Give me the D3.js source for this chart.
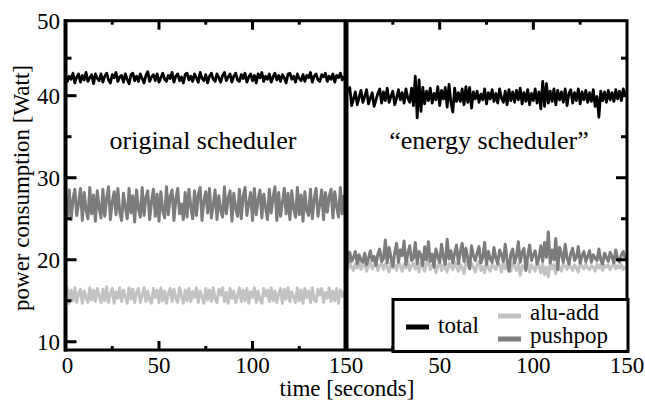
<!DOCTYPE html>
<html><head><meta charset="utf-8">
<script src="https://cdn.jsdelivr.net/npm/d3@7"></script>
<style>body{margin:0;background:#fff}svg{display:block}</style>
</head><body><svg id="c" width="645" height="402" font-family="'Liberation Serif', 'Times New Roman', Times, 'DejaVu Serif', serif"></svg>
<script>
// ---- data ----
const seconds = d3.range(0, 150);
const panels = ["original scheduler", "\u201Cenergy scheduler\u201D"];
const seriesNames = ["total", "alu-add", "pushpop"];
const yTicks = [10, 20, 30, 40, 50];
const yMinor = [15, 25, 35, 45];
const xTicksLeft = [0, 50, 100, 150];
const xTicksRight = [50, 100, 150];
const xMinor = [25, 75, 125];

const origTotal = [
42.8,41.9,42.6,42.2,43.0,41.7,42.5,42.9,41.8,42.7,
42.1,43.1,41.9,42.4,42.8,41.6,42.9,42.3,42.0,42.9,
41.8,42.6,43.0,42.1,41.7,42.8,42.4,43.1,41.9,42.5,
42.7,41.8,42.9,42.2,41.6,42.8,43.0,42.0,42.6,41.9,
42.9,42.3,41.7,42.7,43.2,41.9,42.5,42.8,42.0,42.9,
41.8,42.4,43.0,42.2,41.9,42.7,42.3,43.1,41.8,42.6,
42.9,42.0,42.5,41.7,42.8,43.0,42.1,42.6,41.9,42.9,
42.4,41.8,43.1,42.3,42.0,42.8,41.7,42.6,43.0,42.2,
41.9,42.9,42.4,41.8,42.7,43.1,42.0,42.5,42.9,41.8,
42.6,43.0,42.1,41.9,42.8,42.3,43.0,41.8,42.5,42.9,
42.0,42.7,41.7,42.9,42.4,43.1,41.9,42.6,42.2,42.9,
41.8,42.5,43.0,42.1,42.7,41.9,42.8,42.4,41.7,42.9,
43.0,42.2,42.6,41.8,42.9,42.3,42.0,42.8,41.9,42.7,
42.4,43.1,41.8,42.6,42.9,42.1,41.9,42.8,42.5,43.0,
41.9,42.6,42.2,42.9,41.8,42.7,42.4,43.0,42.1,42.6];
const origPushpop = [
27.8,25.2,28.5,24.9,27.3,28.6,25.4,26.9,28.7,24.8,
28.2,26.1,25.0,28.8,25.6,27.9,24.7,28.4,26.3,25.1,
28.6,25.3,27.5,28.9,24.9,27.0,28.3,25.5,28.7,25.8,
24.8,28.1,26.4,25.0,28.7,25.7,27.8,24.6,28.5,26.2,
25.2,28.8,25.4,27.6,28.4,24.9,27.1,28.6,25.3,28.0,
24.7,28.3,26.0,25.1,28.9,25.5,27.7,28.5,24.8,27.4,
28.7,25.6,26.8,24.9,28.2,25.2,28.6,26.5,25.0,28.4,
25.4,27.9,28.8,24.8,27.2,28.3,25.7,28.7,25.1,26.6,
28.5,24.9,27.8,26.1,25.2,28.9,25.6,27.5,28.4,24.7,
28.1,26.3,25.3,28.6,25.0,27.7,28.8,25.4,26.9,28.2,
24.8,28.7,25.5,27.3,28.5,25.1,28.0,26.4,24.9,28.6,
25.7,27.6,28.9,24.8,28.2,25.3,27.0,28.7,25.6,28.1,
24.9,28.4,26.2,25.2,28.8,25.5,27.9,24.7,28.3,26.0,
25.4,28.6,25.0,27.4,28.7,25.3,26.8,28.5,24.9,28.2,
25.8,27.7,28.6,25.1,28.3,26.5,25.2,28.8,25.6,27.9];
const origAlu = [
15.2,16.5,14.7,16.3,15.0,16.6,14.8,15.9,16.4,14.7,
16.2,15.4,14.8,16.6,15.1,16.3,14.9,16.5,15.6,14.8,
16.4,15.0,16.7,14.8,15.8,16.5,14.7,16.1,15.3,16.6,
14.9,16.3,15.5,14.7,16.6,15.2,16.4,14.8,16.0,16.5,
14.8,15.7,16.6,14.9,16.2,15.1,14.7,16.5,15.4,16.3,
14.8,16.6,15.0,16.2,14.7,15.9,16.5,14.9,16.4,15.3,
14.8,16.6,15.6,14.7,16.3,15.0,16.5,14.9,16.1,15.4,
16.6,14.8,16.2,15.5,14.7,16.5,15.1,16.3,14.9,16.6,
15.2,14.8,16.4,15.7,16.6,14.9,16.0,14.7,16.5,15.3,
16.2,14.8,15.6,16.6,14.9,16.3,15.0,16.5,14.7,16.1,
15.4,16.6,14.8,16.2,15.1,14.7,16.5,15.6,16.3,14.9,
16.6,15.0,16.2,14.8,15.8,16.5,14.7,16.4,15.2,16.6,
14.9,16.1,15.5,14.8,16.6,15.0,16.3,14.7,16.5,15.4,
16.2,14.8,16.6,15.1,14.9,16.4,15.7,16.5,14.8,16.0,
15.3,16.6,14.9,16.2,15.0,16.5,14.7,16.3,15.5,16.1];
const energyTotal = [
41.0,40.6,41.1,38.8,39.6,40.5,38.9,39.8,40.7,39.2,
39.9,40.8,39.0,39.7,40.4,38.7,39.5,40.3,40.9,39.1,
40.5,39.4,41.0,39.2,39.9,40.6,38.9,39.7,40.8,39.5,
40.4,39.1,40.9,39.7,39.2,41.0,38.8,42.6,37.3,42.1,
38.1,41.1,39.0,40.6,39.4,41.0,39.1,40.3,39.5,41.2,
38.8,40.7,39.6,41.1,38.6,41.5,39.2,38.0,41.0,39.3,
40.4,39.3,40.9,38.9,41.2,39.2,41.1,38.5,40.5,39.6,
40.6,39.2,40.2,39.5,40.9,39.0,40.4,39.6,40.8,39.3,
40.3,39.1,40.9,39.7,39.2,40.6,38.9,40.8,39.4,40.5,
39.2,40.7,39.5,41.0,39.0,40.4,39.3,40.8,38.9,40.3,
39.4,40.9,39.1,40.5,38.4,41.9,38.7,41.6,39.1,40.6,
39.3,40.9,38.9,40.7,39.5,40.5,39.2,40.9,38.8,40.3,
40.8,39.1,40.4,39.4,40.9,39.0,40.5,39.5,40.7,39.2,
40.4,39.3,40.8,38.7,39.9,37.4,40.6,39.4,40.5,39.2,
40.7,39.5,40.4,39.3,40.8,39.6,40.6,39.4,40.9,40.1];
const energyPushpop = [
20.5,19.6,20.9,19.8,20.3,21.0,19.5,20.6,20.0,19.7,
20.8,19.4,20.2,21.1,19.9,20.4,19.3,20.7,21.3,19.8,
20.1,22.4,19.6,21.5,20.3,19.2,20.9,22.0,19.7,21.2,
20.5,22.3,19.4,20.8,21.7,19.9,20.2,22.1,19.5,21.0,
20.6,19.3,21.6,20.0,22.2,19.8,20.7,19.1,21.3,20.4,
19.7,21.9,20.3,19.4,22.5,20.1,21.1,19.6,20.8,21.8,
19.5,20.9,22.0,19.8,21.4,20.2,18.9,21.7,20.5,19.9,
20.8,21.6,19.6,20.3,22.1,19.4,21.0,20.1,19.7,21.5,
20.2,19.5,21.2,20.6,19.8,21.9,20.0,18.6,20.7,21.3,
19.6,20.4,22.2,19.7,20.9,21.4,18.7,20.5,21.8,19.9,
20.6,21.1,19.5,20.2,21.7,19.8,22.1,20.3,23.4,19.6,
21.2,20.0,22.6,18.8,21.5,20.7,19.7,21.9,20.2,19.5,
20.8,21.4,19.9,20.3,21.6,19.6,20.5,21.0,19.8,20.4,
21.1,19.7,20.6,20.2,19.9,21.3,20.0,19.5,20.8,20.3,
19.8,20.9,20.4,19.6,21.2,20.1,19.7,20.6,21.0,20.2];
const energyAlu = [
19.4,18.9,19.6,19.1,18.7,19.5,19.0,19.8,18.8,19.3,
19.6,18.6,19.2,19.7,18.9,19.4,19.9,18.7,19.3,19.6,
18.8,19.5,19.1,18.5,19.7,19.0,19.4,18.7,19.9,19.2,
18.6,19.5,19.0,19.8,18.7,19.3,19.6,18.9,19.4,18.5,
19.7,19.1,18.6,19.5,19.9,18.8,19.3,19.6,18.4,19.2,
19.8,18.7,19.4,19.0,18.5,19.6,19.2,18.8,19.7,19.1,
18.6,19.5,19.0,18.3,19.8,19.3,18.9,19.6,19.1,18.5,
19.4,19.8,18.7,19.2,18.4,19.6,19.0,18.6,19.5,19.1,
18.8,19.7,19.3,18.5,19.9,18.9,19.4,19.1,18.6,19.6,
19.2,18.7,19.5,18.1,19.3,19.0,18.8,19.7,18.5,19.4,
19.0,18.6,19.8,19.2,18.4,19.5,18.2,19.1,17.9,19.6,
18.9,19.4,18.3,19.7,19.0,18.6,19.5,19.2,18.8,19.6,
19.1,18.7,19.4,19.0,18.5,19.6,19.2,18.9,19.5,19.0,
18.8,19.3,19.1,18.6,19.5,19.0,19.4,18.7,19.3,19.1,
19.4,18.8,19.2,19.5,18.9,19.3,19.0,19.4,18.8,19.2];

// ---- drawing ----
const svg = d3.select("#c");
const L = 65.5, M = 346, R = 627, T = 20.7, B = 350;
const xL = d3.scaleLinear().domain([0, 150]).range([L, M]);
const xR = d3.scaleLinear().domain([0, 150]).range([M, R]);
const y = d3.scaleLinear().domain([9, 40, 50]).range([B, 95.7, T]);
const colors = {"total": "#000", "alu-add": "#c2c2c2", "pushpop": "#7c7c7c"};
const widths = {"total": 2.8, "alu-add": 3, "pushpop": 3};

const defs = svg.append("defs");
defs.append("clipPath").attr("id", "cl").append("rect")
  .attr("x", L).attr("y", T).attr("width", M - L).attr("height", B - T);
defs.append("clipPath").attr("id", "cr").append("rect")
  .attr("x", M).attr("y", T).attr("width", R - M).attr("height", B - T);

function drawPanel(x, data, clip) {
  const g = svg.append("g").attr("clip-path", `url(#${clip})`);
  ["alu-add", "pushpop", "total"].forEach(name => {
    const line = d3.line().x((d, i) => x(seconds[i])).y(d => y(d));
    g.append("path").datum(data[name]).attr("d", line)
      .attr("fill", "none").attr("stroke", colors[name])
      .attr("stroke-width", widths[name]).attr("stroke-linejoin", "round");
  });
}
drawPanel(xL, {"total": origTotal, "alu-add": origAlu, "pushpop": origPushpop}, "cl");
drawPanel(xR, {"total": energyTotal, "alu-add": energyAlu, "pushpop": energyPushpop}, "cr");

// frame
const axG = svg.append("g").attr("stroke", "#000").attr("fill", "none");
axG.append("rect").attr("x", L).attr("y", T).attr("width", R - L).attr("height", B - T).attr("stroke-width", 3);
axG.append("line").attr("x1", L).attr("x2", L).attr("y1", T - 1.5).attr("y2", B + 1.5).attr("stroke-width", 4);
axG.append("line").attr("x1", M).attr("x2", M).attr("y1", T).attr("y2", B).attr("stroke-width", 5);

// y ticks (inside, both sides)
yTicks.filter(v => v < 50).forEach(v => {
  axG.append("line").attr("x1", L).attr("x2", L + 11).attr("y1", y(v)).attr("y2", y(v)).attr("stroke-width", 3);
  axG.append("line").attr("x1", R).attr("x2", R - 11).attr("y1", y(v)).attr("y2", y(v)).attr("stroke-width", 3);
});
yMinor.forEach(v => {
  axG.append("line").attr("x1", L).attr("x2", L + 6).attr("y1", y(v)).attr("y2", y(v)).attr("stroke-width", 3);
  axG.append("line").attr("x1", R).attr("x2", R - 6).attr("y1", y(v)).attr("y2", y(v)).attr("stroke-width", 3);
});
// x ticks (inside, top and bottom)
[xL, xR].forEach(x => {
  [50, 100].forEach(v => {
    axG.append("line").attr("x1", x(v)).attr("x2", x(v)).attr("y1", B).attr("y2", B - 9).attr("stroke-width", 3);
    axG.append("line").attr("x1", x(v)).attr("x2", x(v)).attr("y1", T).attr("y2", T + 9).attr("stroke-width", 3);
  });
  xMinor.forEach(v => {
    axG.append("line").attr("x1", x(v)).attr("x2", x(v)).attr("y1", B).attr("y2", B - 4).attr("stroke-width", 3);
    axG.append("line").attr("x1", x(v)).attr("x2", x(v)).attr("y1", T).attr("y2", T + 4).attr("stroke-width", 3);
  });
});

// tick labels
const fs = 23;
yTicks.forEach(v => {
  svg.append("text").attr("x", 60).attr("y", y(v)).attr("dy", "0.34em")
    .attr("text-anchor", "end").attr("font-size", fs).text(v);
});
xTicksLeft.forEach(v => {
  svg.append("text").attr("x", xL(v) + (v === 0 ? 2 : 0)).attr("y", 373).attr("text-anchor", "middle").attr("font-size", fs).text(v);
});
xTicksRight.forEach(v => {
  svg.append("text").attr("x", xR(v)).attr("y", 373).attr("text-anchor", "middle").attr("font-size", fs).text(v);
});

// axis titles
svg.append("text").attr("x", 347).attr("y", 396).attr("text-anchor", "middle").attr("font-size", fs).text("time [seconds]");
svg.append("text").attr("transform", "translate(29,188) rotate(-90)").attr("text-anchor", "middle")
  .attr("font-size", fs).text("power consumption [Watt]");

// panel annotations
svg.append("text").attr("x", 203).attr("y", 149).attr("text-anchor", "middle").attr("font-size", 26).text(panels[0]);
svg.append("text").attr("x", 489).attr("y", 149).attr("text-anchor", "middle").attr("font-size", 26).text(panels[1]);

// legend
const lg = svg.append("g");
lg.append("rect").attr("x", 393).attr("y", 299.5).attr("width", R - 393 + 1).attr("height", B - 299.5 + 1.5)
  .attr("fill", "#fff").attr("stroke", "#000").attr("stroke-width", 3);
const legendItems = [
  {name: seriesNames[0], x: 406, y: 327, ty: 333},
  {name: seriesNames[1], x: 498, y: 316, ty: 320},
  {name: seriesNames[2], x: 498, y: 339, ty: 343}
];
legendItems.forEach(it => {
  lg.append("line").attr("x1", it.x).attr("x2", it.x + 23).attr("y1", it.y).attr("y2", it.y)
    .attr("stroke", colors[it.name]).attr("stroke-width", 5);
  lg.append("text").attr("x", it.x + 32).attr("y", it.ty).attr("font-size", 23).text(it.name);
});
</script></body></html>
